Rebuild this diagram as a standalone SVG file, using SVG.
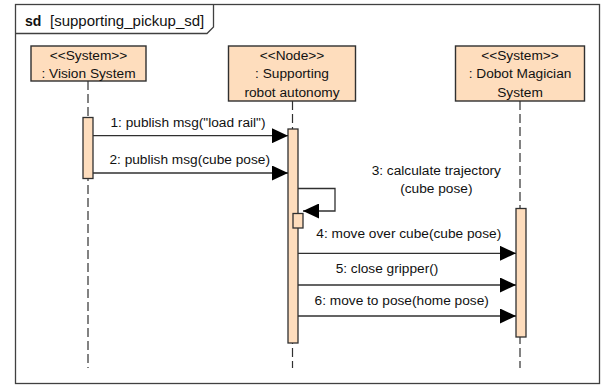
<svg xmlns="http://www.w3.org/2000/svg" width="602" height="385" viewBox="0 0 602 385">
<style>
  .frame{fill:#fff;stroke:#404040;stroke-width:1.3}
  .box{fill:#FEDDBD;stroke:#303030;stroke-width:1.4}
  .act{fill:#FEDDBD;stroke:#303030;stroke-width:1.3}
  .life{stroke:#303030;stroke-width:1.2;stroke-dasharray:9 4;fill:none}
  .msg{stroke:#303030;stroke-width:1.3;fill:none}
  text{font-family:"Liberation Sans",Arial,sans-serif;font-size:13.7px;fill:#111}
  .c{text-anchor:middle}
</style>
<defs>
  <marker id="ah" markerWidth="16" markerHeight="15" refX="16" refY="7.5" orient="auto" markerUnits="userSpaceOnUse">
    <path d="M0,0 L16,7.5 L0,15 Z" fill="#000"/>
  </marker>
</defs>
<g id="frame">
  <rect class="frame" x="15.5" y="4.5" width="584" height="379"/>
  <path d="M15.5,33.5 H207 L213.5,27 V4.5" fill="none" stroke="#404040" stroke-width="1.3"/>
  <text x="25" y="26" style="font-weight:bold;font-size:14px">sd</text>
  <text x="50" y="26" style="font-size:15px">[supporting_pickup_sd]</text>
</g>
<g id="lifelines">
  <line class="life" x1="88" y1="81" x2="88" y2="368"/>
  <line class="life" x1="292.5" y1="101" x2="292.5" y2="368"/>
  <line class="life" x1="520" y1="101" x2="520" y2="368"/>
</g>
<g id="vision">
  <rect class="box" x="31" y="46" width="115" height="35"/>
  <text class="c" x="88.5" y="60">&lt;&lt;System&gt;&gt;</text>
  <text class="c" x="88.5" y="78">: Vision System</text>
</g>
<g id="node">
  <rect class="box" x="228.5" y="46" width="127" height="55"/>
  <text class="c" x="292" y="60">&lt;&lt;Node&gt;&gt;</text>
  <text class="c" x="292" y="78.3">: Supporting</text>
  <text class="c" x="292" y="96.6">robot autonomy</text>
</g>
<g id="dobot">
  <rect class="box" x="455.5" y="46" width="129" height="55"/>
  <text class="c" x="520" y="60">&lt;&lt;System&gt;&gt;</text>
  <text class="c" x="520" y="78.3">: Dobot Magician</text>
  <text class="c" x="520" y="96.6">System</text>
</g>
<g id="activations">
  <rect class="act" x="83" y="117.5" width="10" height="61"/>
  <rect class="act" x="288" y="129" width="10" height="214"/>
  <rect class="act" x="293" y="213.5" width="10" height="14.5"/>
  <rect class="act" x="516" y="208.5" width="10" height="128.5"/>
</g>
<g id="connectors">
  <line class="msg" x1="93" y1="135.7" x2="288" y2="135.7" marker-end="url(#ah)"/>
  <line class="msg" x1="93" y1="173" x2="288" y2="173" marker-end="url(#ah)"/>
  <path class="msg" d="M298,188.5 H335 V211 H303" marker-end="url(#ah)"/>
  <line class="msg" x1="298" y1="253.3" x2="516" y2="253.3" marker-end="url(#ah)"/>
  <line class="msg" x1="298" y1="285" x2="516" y2="285" marker-end="url(#ah)"/>
  <line class="msg" x1="298" y1="316" x2="516" y2="316" marker-end="url(#ah)"/>
</g>
<g id="labels">
  <text class="c" x="188" y="127.3">1: publish msg("load rail")</text>
  <text class="c" x="189.7" y="164.3">2: publish msg(cube pose)</text>
  <text class="c" x="436.3" y="175">3: calculate trajectory</text>
  <text class="c" x="436.3" y="193">(cube pose)</text>
  <text class="c" x="408.8" y="238">4: move over cube(cube pose)</text>
  <text class="c" x="387" y="272.5">5: close gripper()</text>
  <text class="c" x="401.7" y="305">6: move to pose(home pose)</text>
</g>
</svg>
